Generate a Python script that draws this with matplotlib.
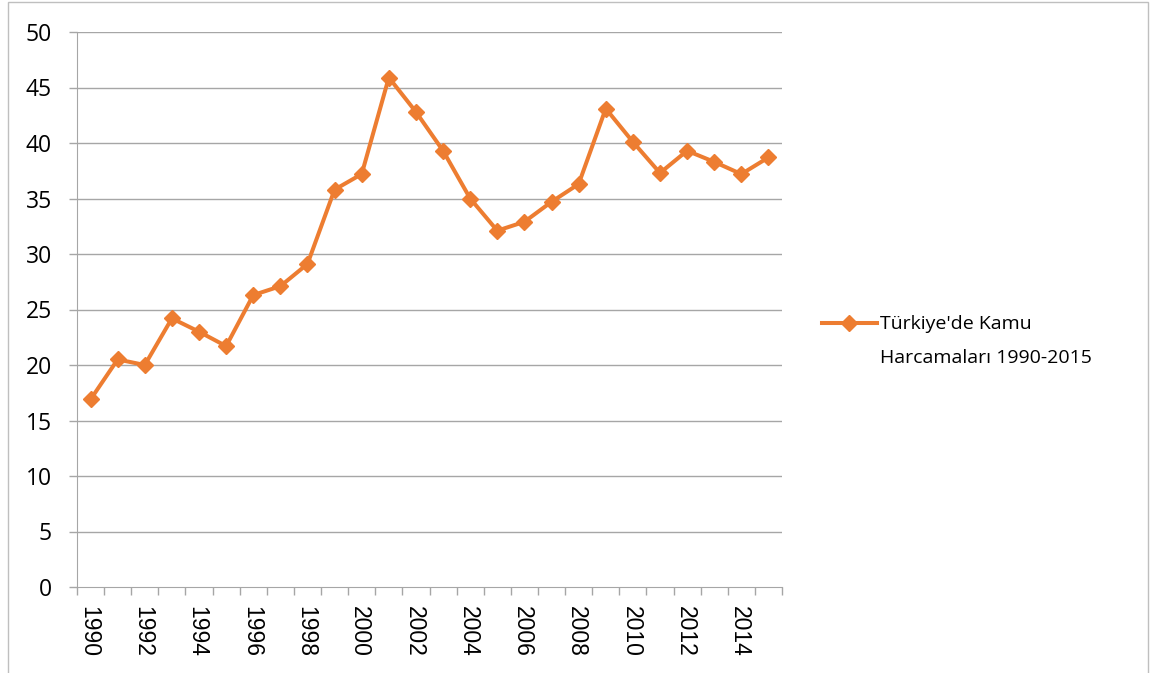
import matplotlib
matplotlib.use("Agg")
import matplotlib.pyplot as plt
from matplotlib.patches import Rectangle
from matplotlib.lines import Line2D

years = [str(y) for y in range(1990, 2016)]
values = [16.9, 20.5, 20.0, 24.2, 23.0, 21.7, 26.3, 27.1, 29.1, 35.8, 37.2, 45.9,
          42.8, 39.3, 35.0, 32.1, 32.9, 34.7, 36.3, 43.1, 40.1, 37.3, 39.3, 38.3,
          37.2, 38.7]
label_lines = ["Türkiye'de Kamu", "Harcamaları 1990-2015"]
yticks = [0, 5, 10, 15, 20, 25, 30, 35, 40, 45, 50]

plt.rcParams['font.family'] = ['Open Sans', 'DejaVu Sans']
W, H = 1164, 673
fig = plt.figure(figsize=(W/100, H/100), dpi=100)
ax = fig.add_axes([77/W, 1-587/H, (782-77)/W, (587-32)/H])

color = '#ED7D31'
grid_c = '#A6A6A6'
lw = 2.9
ms = 8.5
n = len(years)
x = list(range(n))
ax.plot(x, values, color=color, lw=lw, marker='D', markersize=ms,
        markeredgecolor=color, markerfacecolor=color, zorder=3, clip_on=False)

ax.set_xlim(-0.5, n-0.5)
ax.set_ylim(0, 50)
ax.set_yticks(yticks)
ax.set_yticklabels([str(v) for v in yticks], fontsize=16.5)
for v in yticks[1:]:
    ax.axhline(v, color=grid_c, lw=1, zorder=1)
ax.tick_params(axis='y', length=6, color=grid_c, width=1, pad=12)

# x ticks: marks at boundaries, labels at centers (every other year)
ax.set_xticks([i - 0.5 for i in range(n+1)])
ax.set_xticklabels([])
ax.tick_params(axis='x', length=5.5, color=grid_c, width=1)
for i, yr in enumerate(years):
    if i % 2 == 0:
        ax.text(i - 0.07, -1.75, yr, rotation=270, ha='center', va='top',
                fontsize=16.5, family=['Liberation Sans', 'DejaVu Sans'],
                transform=ax.transData)

for s in ['top', 'right']:
    ax.spines[s].set_visible(False)
ax.spines['left'].set_color(grid_c)
ax.spines['bottom'].set_color(grid_c)

# legend (handle aligned with first text line)
fig.add_artist(Line2D([822/W, 877/W], [1-323/H, 1-323/H], transform=fig.transFigure,
                      color=color, lw=lw))
fig.add_artist(Line2D([849/W], [1-323/H], transform=fig.transFigure,
                      color=color, marker='D', markersize=ms, lw=0))
fig.text(880/W, 1-329/H, label_lines[0], fontsize=14, va='baseline', ha='left')
fig.text(880/W, 1-363/H, label_lines[1], fontsize=14, va='baseline', ha='left')

# outer border
fig.patches.append(Rectangle((8/W, -0.01), (1148-8)/W, 1-2/H+0.01,
                             transform=fig.transFigure, fill=False,
                             edgecolor='#BFBFBF', lw=1))

fig.savefig('out.png', dpi=100)
